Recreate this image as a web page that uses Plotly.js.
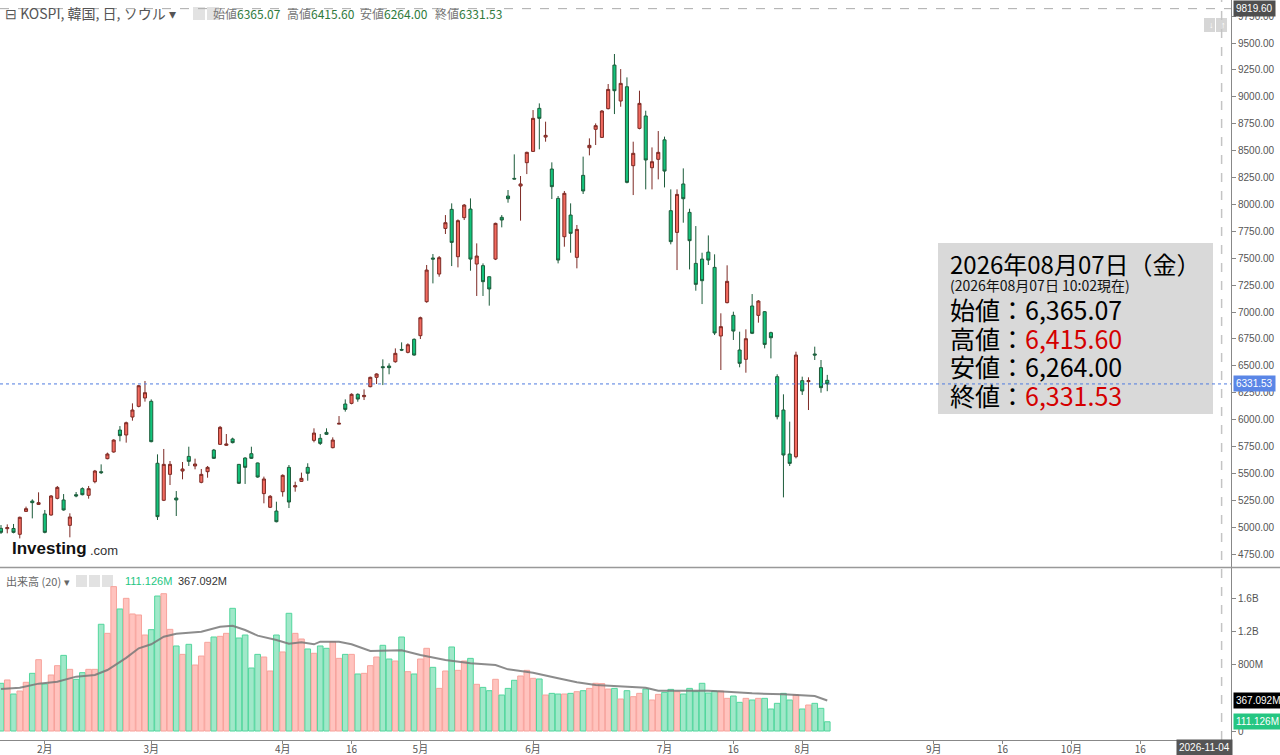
<!DOCTYPE html>
<html><head><meta charset="utf-8">
<script src="https://cdn.plot.ly/plotly-3.0.1.min.js"></script>
<style>html,body{margin:0;padding:0;background:#fff;}#chart{width:1280px;height:755px;}</style>
</head><body><div id="chart"></div>
<script>
// ---- DATA (one entry per trading day, Jan 22 – Aug 7 2026) ----
const openP = [4989,4986,4988,4934,5147,5243,5212,5123,5113,5268,5253,5017,5302,5358,5296,5423,5516,5637,5699,5903,
5857,6024,6123,6201,6170,5594,5250,5491,5271,5522,5658,5569,5417,5516,5717,5770,5761,5820,5584,5643,
5683,5597,5312,5185,5150,5330,5556,5374,5426,5556,5807,5826,5881,5739,5958,6145,6151,6235,6213,6306,
6393,6492,6498,6538,6652,6625,6746,6780,7096,7502,7353,7777,7954,7514,7877,7957,7446,7431,7328,7492,
7880,8078,8242,8171,8388,8493,8893,8626,8329,8056,7700,7901,7508,8270,8527,8698,8623,8890,9295,8961,
9094,8360,8707,8822,8341,8419,8600,7942,7740,8190,7926,7452,7492,7557,7415,6777,7087,6969,6647,6560,
7056,6969,7003,6808,6399,6089,5680,5655,6362,6353,6610,6483,6365.07];
const highP = [5020,5026,5030,5098,5191,5259,5324,5160,5299,5383,5308,5129,5327,5370,5383,5532,5584,5693,5817,5940,
5981,6151,6322,6359,6188,5677,5727,5615,5336,5606,5748,5637,5541,5569,5727,5941,5866,5832,5587,5650,
5748,5600,5470,5299,5237,5491,5578,5423,5507,5594,5919,5866,5919,5835,6033,6188,6244,6244,6281,6399,
6430,6560,6523,6662,6718,6709,6755,6957,7437,7539,7520,7901,8010,7861,8004,8056,7638,7452,7330,7830,
7901,8134,8465,8264,8490,8877,8939,8769,8391,8078,8125,8010,7809,8444,8614,8753,8877,9119,9398,9258,
9181,8583,9057,8871,8530,8682,8630,8140,8140,8335,7960,7799,7551,7712,7536,6988,7434,7003,6817,6839,
7167,7111,7009,6817,6421,6235,5981,6631,6399,6393,6678,6554,6415.60];
const lowP = [4937,4943,4943,4896,5141,5082,5206,4943,5107,5259,5154,4906,5278,5296,5265,5408,5494,5631,5693,5798,
5786,5990,6114,6167,5789,5067,5243,5392,5104,5445,5569,5538,5408,5460,5634,5764,5755,5779,5402,5402,
5634,5460,5222,5178,5045,5284,5178,5330,5420,5432,5789,5764,5857,5733,5956,6074,6142,6166,6182,6300,
6331,6321,6421,6529,6637,6616,6594,6749,7086,7266,7328,7725,7427,7415,7855,7384,7149,7149,7059,7483,
7787,8016,8233,7849,8282,8487,8512,8583,8050,7452,7607,7551,7406,8097,8456,8552,8617,8883,8840,8908,
8196,8087,8698,8140,8140,8233,8158,7629,7390,7830,7396,7198,7074,7437,6786,6461,7080,6740,6486,6436,
6795,6901,6662,6569,6002,5277,5569,5640,6229,6089,6554,6250,6264.00];
const closeP = [4952,4996,4952,5092,5172,5228,5228,4952,5290,5370,5160,5095,5290,5302,5358,5522,5507,5680,5810,5851,
5971,6089,6315,6250,5795,5098,5584,5584,5253,5541,5612,5587,5491,5556,5640,5928,5773,5786,5408,5556,
5640,5466,5448,5287,5051,5482,5234,5386,5454,5501,5875,5779,5863,5810,5965,6095,6235,6191,6225,6393,
6424,6483,6483,6616,6646,6696,6600,6947,7390,7492,7505,7830,7647,7849,7994,7492,7520,7282,7214,7824,
7855,8053,8236,8190,8484,8800,8800,8642,8165,7483,8103,7731,7768,8125,8549,8732,8868,9069,9057,9125,
8205,8475,8939,8413,8397,8484,8310,7654,8093,8053,7663,7257,7291,7483,6805,6864,7285,6823,6523,6752,
6802,7102,6699,6761,6027,5671,5593,6600,6266,6362,6600,6297,6331.53];
// volume, millions
const volumeM = [574,614,445,481,586,694,858,566,674,786,910,742,622,702,742,742,1284,1175,1737,1468,
1596,1408,1396,1155,1219,1624,1652,1223,1023,922,1043,794,902,1067,1131,1139,1175,1476,1119,1155,
758,922,890,722,1155,951,1416,1175,1107,987,935,1023,995,1075,874,922,922,686,694,786,
890,1031,866,842,1131,714,686,866,995,766,513,722,1011,730,842,874,562,525,485,622,
433,513,610,662,730,634,626,433,453,445,445,453,473,485,513,574,570,505,513,385,
485,413,453,505,373,441,465,501,473,445,513,473,574,457,481,481,393,421,345,393,
373,393,393,265,333,453,373,433,265,313,333,273,111.126];
// 20-day volume moving average, read at these bar positions (millions)
const maIdx = [0,3,6,9,12,15,17,20,22,24,26,28,32,35,37,39,41,44,46,48,50,51,54,56,59,64,67,71,75,79,81,85,89,92,95,99,103,105,109,113,116,120,125,130,132];
const maVal = [505,521,570,594,654,674,734,880,995,1043,1135,1171,1195,1255,1267,1215,1147,1095,1051,1067,1043,1075,1075,1043,963,971,915,854,814,794,742,702,634,586,554,541,521,485,489,485,473,453,441,421,367.092];
// x-axis ticks (bar positions incl. projected future weekdays)
const tickIdx  = [7,24,45,56,67,85,106,117,128,149,160,171,182];
const tickText = ['2月','3月','4月','16','5月','6月','7月','16','8月','9月','16','10月','16'];
const priceTicks = [4750,5000,5250,5500,5750,6000,6250,6500,6750,7000,7250,7500,7750,8000,8250,8500,8750,9000,9250,9500,9750];
const volTicks = [0,800,1200,1600];
const volTickText = ['0','800M','1.2B','1.6B'];
const lastClose = 6331.53, crossPrice = 9819.60, crossIdx = 195;
const lastVol = 111.126, lastMA = 367.092;

// ---- BUILD ----
const xs = openP.map((_, i) => i);
const UPF = '#f26a5f', UPL = '#7d2a24', DNF = '#13c37b', DNL = '#1d5c3b';
const volFill = xs.map(i => closeP[i] >= openP[i] ? 'rgba(255,175,168,0.75)' : 'rgba(120,222,178,0.7)');
const volLine = xs.map(i => closeP[i] >= openP[i] ? '#f7a39c' : '#52d69d');

const W = 1231, H = 740;
const px = x => x / W, py = y => (H - y) / H;
const CJK = 'Noto Sans CJK JP, Liberation Sans, sans-serif';
const LAT = 'Liberation Sans, Noto Sans CJK JP, sans-serif';

const traces = [
  {type:'candlestick', x:xs, open:openP, high:highP, low:lowP, close:closeP, xaxis:'x', yaxis:'y',
   increasing:{line:{color:UPL,width:1}, fillcolor:UPF},
   decreasing:{line:{color:DNL,width:1}, fillcolor:DNF},
   whiskerwidth:0, hoverinfo:'skip', showlegend:false},
  {type:'bar', x:xs, y:volumeM, xaxis:'x', yaxis:'y2',
   marker:{color:volFill, line:{color:volLine,width:1}}, hoverinfo:'skip', showlegend:false},
  {type:'scatter', mode:'lines', x:maIdx, y:maVal, xaxis:'x', yaxis:'y2',
   line:{color:'rgba(120,120,120,0.85)', width:2}, hoverinfo:'skip', showlegend:false}
];

function lbl(x, y, text, size, color, family, extra) {
  return Object.assign({xref:'paper', yref:'paper', x:px(x), y:py(y), text:text, showarrow:false,
    xanchor:'left', yanchor:'middle', font:{size:size, color:color, family:family}}, extra || {});
}
function boxLbl(yref, yv, text, bg) {
  return {xref:'paper', yref:yref, x:px(1233), y:yv, text:text, showarrow:false, xanchor:'left', yanchor:'middle',
    bgcolor:bg, borderpad:2, font:{size:10, color:'#fff', family:LAT}};
}

const annotations = [
  lbl(3, 13, '⊟ KOSPI, 韓国, 日, ソウル ▾', 14, '#555', CJK),
  lbl(211, 13, '<span style="color:#777">始値</span>6365.07', 12, '#2e7a3c', CJK),
  lbl(285, 13, '<span style="color:#777">高値</span>6415.60', 12, '#2e7a3c', CJK),
  lbl(358, 13, '<span style="color:#777">安値</span>6264.00', 12, '#2e7a3c', CJK),
  lbl(433, 13, '<span style="color:#777">終値</span>6331.53', 12, '#2e7a3c', CJK),
  lbl(10, 548, '<b>Investing</b>', 17, '#111', LAT),
  lbl(88, 550, '.com', 13, '#333', LAT),
  lbl(4, 581, '出来高 (20) ▾', 11, '#666', CJK),
  lbl(123, 581, lastVol.toFixed(3) + 'M', 11, '#25c682', LAT),
  lbl(176, 581, lastMA.toFixed(3) + 'M', 11, '#333', LAT),
  // info box
  lbl(948, 263, '2026年08月07日（金）', 24, '#000', CJK),
  lbl(948, 285, '(2026年08月07日 10:02現在)', 14, '#111', CJK),
  lbl(948, 309, '始値：6,365.07', 25, '#000', CJK),
  lbl(948, 338, '高値：<span style="color:#d40000">6,415.60</span>', 25, '#000', CJK),
  lbl(948, 366, '安値：6,264.00', 25, '#000', CJK),
  lbl(948, 395, '終値：<span style="color:#d40000">6,331.53</span>', 25, '#000', CJK),
  // axis value labels
  boxLbl('y', crossPrice, crossPrice.toFixed(2), '#4f4f4f'),
  boxLbl('y', lastClose, lastClose.toFixed(2), '#5a86e6'),
  boxLbl('y2', lastMA, lastMA.toFixed(3) + 'M', '#000'),
  boxLbl('y2', lastVol, lastVol.toFixed(3) + 'M', '#25c682'),
  {xref:'paper', yref:'paper', x:px(1204), y:py(747), text:'2026-11-04', showarrow:false, xanchor:'center', yanchor:'middle',
   bgcolor:'#555', borderpad:2, font:{size:10, color:'#fff', family:LAT}},
  lbl(1207, 25, '↓', 9, '#fff', LAT),
  lbl(1219, 25, '↑', 9, '#fff', LAT)
];

const rect = (x0, y0, x1, y1, fill) => ({type:'rect', xref:'paper', yref:'paper', x0:px(x0), x1:px(x1), y0:py(y1), y1:py(y0),
  fillcolor:fill, line:{width:0}, layer:'below'});

const shapes = [
  rect(938, 243, 1213, 414, '#d9d9d9'),
  rect(193, 7, 205, 20, '#e2e2e2'), rect(207, 7, 219, 20, '#e2e2e2'),
  rect(76, 575, 87, 587, '#e2e2e2'), rect(89, 575, 100, 587, '#e2e2e2'), rect(102, 575, 113, 587, '#e2e2e2'),
  rect(1204, 18, 1215, 32, '#d6d6d6'), rect(1216, 18, 1227, 32, '#d6d6d6'),
  {type:'line', xref:'paper', yref:'y', x0:0, x1:1, y0:lastClose, y1:lastClose, line:{color:'#4f7be0', width:1, dash:'dot'}},
  {type:'line', xref:'paper', yref:'y', x0:0, x1:1, y0:crossPrice, y1:crossPrice, line:{color:'#aaa', width:1, dash:'dash'}},
  {type:'line', xref:'x', yref:'paper', x0:crossIdx, x1:crossIdx, y0:0, y1:1, line:{color:'#c4c4c4', width:1.5, dash:'dash'}},
  {type:'line', xref:'paper', yref:'paper', x0:0, x1:1280 / W, y0:py(567.5), y1:py(567.5), line:{color:'#999', width:1.5}}
];

const layout = {
  width:1280, height:755, margin:{l:0, r:49, t:0, b:15}, paper_bgcolor:'#fff', plot_bgcolor:'#fff',
  font:{family:LAT, color:'#555'}, showlegend:false, bargap:0.1, dragmode:false,
  xaxis:{domain:[0,1], anchor:'y2', range:[-0.16, 196.5], rangeslider:{visible:false}, tickmode:'array',
    tickvals:tickIdx, ticktext:tickText, ticks:'outside', ticklen:3, tickcolor:'#888', showgrid:false, zeroline:false,
    ticklabelstandoff:-3,
    showline:true, linecolor:'#888', linewidth:1, tickfont:{size:10, color:'#555', family:CJK}},
  yaxis:{domain:[173 / 740, 1], anchor:'x', side:'right', range:[4630, 9900], tickmode:'array', tickvals:priceTicks,
    ticktext:priceTicks.map(v => v.toFixed(2)), ticks:'outside', ticklen:4, tickcolor:'#888', showgrid:false, zeroline:false,
    showline:true, linecolor:'#888', tickfont:{size:10, color:'#555', family:LAT}},
  yaxis2:{domain:[0, 172 / 740], anchor:'x', side:'right', range:[-108, 1961], tickmode:'array', tickvals:volTicks,
    ticktext:volTickText, ticks:'outside', ticklen:4, tickcolor:'#888', showgrid:false, zeroline:false,
    showline:true, linecolor:'#888', tickfont:{size:10, color:'#555', family:LAT}},
  annotations:annotations, shapes:shapes
};

Plotly.newPlot('chart', traces, layout, {displayModeBar:false, staticPlot:true});
</script></body></html>
